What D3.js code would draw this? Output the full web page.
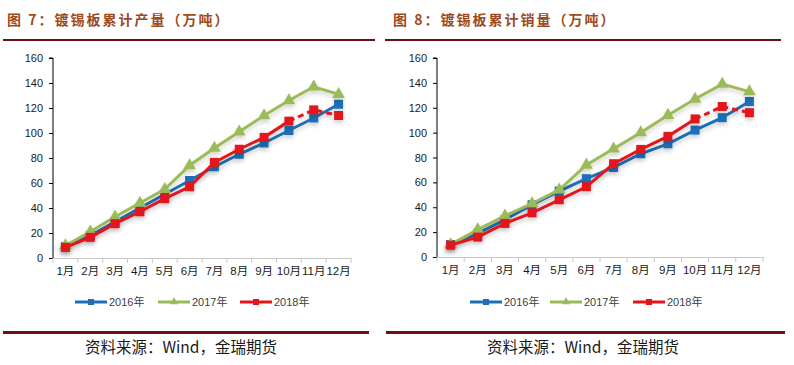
<!DOCTYPE html>
<html><head><meta charset="utf-8">
<script src="https://cdn.jsdelivr.net/npm/d3@7"></script>
<style>
html,body{margin:0;padding:0;background:#fff;}
svg{display:block;}
</style></head>
<body>
<svg id="c" width="794" height="365"></svg>
<script>
const months = ["1月","2月","3月","4月","5月","6月","7月","8月","9月","10月","11月","12月"];
const yTicks = [0,20,40,60,80,100,120,140,160];
const seriesNames = ["2016年","2017年","2018年"];
const seriesColors = ["#1f6fb8","#9bbb59","#e3151b"];
const prod2016 = [9, 18, 29, 40, 51, 62, 73, 83, 92, 102, 112, 123];
const prod2017 = [10, 21, 33, 44, 55, 74, 88, 101, 114, 126, 137, 131];
const prod2018 = [8.5, 16.5, 27.5, 37, 47.5, 57, 76.5, 87, 96.5, 109.5, 118.5, 114];
const sales2016 = [10, 19, 30, 42, 53, 63, 72, 83, 91, 102, 112, 125];
const sales2017 = [10, 22, 33, 43, 54, 74, 87, 100, 114, 127, 139, 133];
const sales2018 = [9.5, 16, 27, 35.5, 46, 56.5, 75, 86.5, 97, 111, 121, 116];
const dashFrom2018 = 9; // 2018 line dashed after 10月
const titles = ["图 7：镀锡板累计产量（万吨）","图 8：镀锡板累计销量（万吨）"];
const sourceText = "资料来源：Wind，金瑞期货";

const svg = d3.select("#c");
const defs = svg.append("defs");
const f = defs.append("filter").attr("id","sh").attr("x","-10%").attr("y","-20%").attr("width","130%").attr("height","150%");
f.append("feDropShadow").attr("dx",0).attr("dy",3).attr("stdDeviation",2).attr("flood-opacity",0.18);

const panels = [
  {data:[prod2016,prod2017,prod2018], x0:53, x1:351, yTop:58, yBot:258,
   title:titles[0], tx:7, hl:[3,375], bl:[3,369], legX:[75,158,240], srcX:85},
  {data:[sales2016,sales2017,sales2018], x0:437, x1:763, yTop:58, yBot:257,
   title:titles[1], tx:393, hl:[385,781], bl:[386,785], legX:[470,550,633], srcX:487}
];

const TITLE_COL = "#9c4a1e", RULE_COL = "#6b1014";

panels.forEach(p => {
  const g = svg.append("g");
  // header
  g.append("text").attr("x",p.tx).attr("y",25).text(p.title)
    .attr("font-family","'Noto Sans CJK SC'").attr("font-weight","bold")
    .attr("font-size",14).attr("letter-spacing","2px").attr("fill",TITLE_COL);
  g.append("line").attr("x1",p.hl[0]).attr("x2",p.hl[1]).attr("y1",40).attr("y2",40)
    .attr("stroke",RULE_COL).attr("stroke-width",2.2);
  g.append("line").attr("x1",p.bl[0]).attr("x2",p.bl[1]).attr("y1",332.5).attr("y2",332.5)
    .attr("stroke",RULE_COL).attr("stroke-width",3);
  g.append("text").attr("x",p.srcX).attr("y",353).text(sourceText)
    .attr("font-family","'Noto Sans CJK SC'").attr("font-size",15.5).attr("fill","#1a1a1a");

  const x = d3.scaleBand().domain(months).range([p.x0,p.x1]);
  const y = d3.scaleLinear().domain([0,160]).range([p.yBot,p.yTop]);

  // y axis
  const ya = g.append("g").attr("transform",`translate(${p.x0},0)`)
    .call(d3.axisLeft(y).tickValues(yTicks).tickSize(4).tickPadding(6));
  ya.select(".domain").attr("stroke","#000").attr("d",`M-4,${y(160)}H0V${y(0)}`);
  ya.selectAll(".tick line").attr("stroke","#000");
  ya.selectAll("text").attr("font-family","'Liberation Sans',Arial").attr("font-size",11).attr("fill","#1a1a1a");

  // x axis
  const xa = g.append("g").attr("transform",`translate(0,${p.yBot})`)
    .call(d3.axisBottom(x).tickSize(0).tickPadding(9));
  xa.select(".domain").attr("stroke","#c8c8c8");
  xa.selectAll("text").attr("font-family","'Liberation Sans','Noto Sans CJK SC'").attr("font-size",11.5).attr("fill","#1a1a1a");
  const bounds = months.map((m,i)=>x(m)).concat([p.x1]);
  g.selectAll(".xt").data(bounds).enter().append("line")
    .attr("x1",d=>d).attr("x2",d=>d).attr("y1",p.yBot).attr("y2",p.yBot+5)
    .attr("stroke","#c8c8c8");

  const cx = i => x(months[i]) + x.bandwidth()/2;
  const line = d3.line().x(d=>cx(d.i)).y(d=>y(d.v));

  p.data.forEach((arr, si) => {
    const col = seriesColors[si];
    const pts = arr.map((v,i)=>({i,v}));
    const lg = g.append("g").attr("filter","url(#sh)");
    if (si === 2) {
      lg.append("path").attr("d",line(pts.slice(0,dashFrom2018+1))).attr("fill","none")
        .attr("stroke",col).attr("stroke-width",3);
      lg.append("path").attr("d",line(pts.slice(dashFrom2018))).attr("fill","none")
        .attr("stroke",col).attr("stroke-width",3).attr("stroke-dasharray","6,4");
    } else {
      lg.append("path").attr("d",line(pts)).attr("fill","none")
        .attr("stroke",col).attr("stroke-width",3);
    }
    if (si === 1) {
      lg.selectAll(".m").data(pts).enter().append("path")
        .attr("d",d3.symbol(d3.symbolTriangle,70)())
        .attr("transform",d=>`translate(${cx(d.i)},${y(d.v)})`).attr("fill",col);
    } else {
      lg.selectAll(".m").data(pts).enter().append("rect")
        .attr("x",d=>cx(d.i)-4.5).attr("y",d=>y(d.v)-4.5).attr("width",9).attr("height",9).attr("fill",col);
    }
  });

  // legend
  seriesNames.forEach((n, si) => {
    const lx = p.legX[si], ly = 302;
    const col = seriesColors[si];
    g.append("line").attr("x1",lx).attr("x2",lx+32).attr("y1",ly).attr("y2",ly)
      .attr("stroke",col).attr("stroke-width",3);
    if (si === 1) {
      g.append("path").attr("d",d3.symbol(d3.symbolTriangle,28)())
        .attr("transform",`translate(${lx+16},${ly})`).attr("fill",col);
    } else {
      g.append("rect").attr("x",lx+13).attr("y",ly-3).attr("width",6).attr("height",6).attr("fill",col);
    }
    g.append("text").attr("x",lx+34).attr("y",ly+4).text(n)
      .attr("font-family","'Liberation Sans','Noto Sans CJK SC'").attr("font-size",11).attr("fill","#404040");
  });
});
</script>
</body></html>
